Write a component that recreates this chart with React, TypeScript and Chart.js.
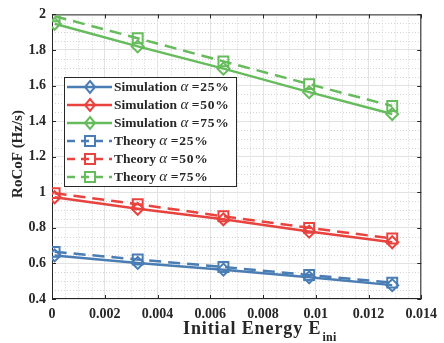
import React, { useEffect, useRef } from "react";
import { Chart, registerables } from "chart.js";
Chart.register(...registerables);

const xValues = [0.0001, 0.00325, 0.0065, 0.00975, 0.0129];
const simBlue = [0.645, 0.603, 0.565, 0.522, 0.478];
const simRed = [0.972, 0.907, 0.848, 0.779, 0.719];
const simGreen = [1.947, 1.82, 1.695, 1.563, 1.44];
const thBlue = [0.665, 0.622, 0.58, 0.535, 0.492];
const thRed = [0.995, 0.933, 0.865, 0.8, 0.74];
const thGreen = [1.99, 1.866, 1.736, 1.608, 1.485];

const xTickValues = [0, 0.002, 0.004, 0.006, 0.008, 0.01, 0.012, 0.014];
const yTickValues = [0.4, 0.6, 0.8, 1, 1.2, 1.4, 1.6, 1.8, 2];
const legendPrefixes = ["Simulation", "Simulation", "Simulation", "Theory", "Theory", "Theory"];
const legendSuffixes = ["=25%", "=50%", "=75%", "=25%", "=50%", "=75%"];

const BLUE = "#4a7db4";
const RED = "#e8433f";
const GREEN = "#66bb5c";
const FONT = '"Liberation Serif", "Times New Roman", serif';
const INK = "#262626";

const seriesValues = [simBlue, simRed, simGreen, thBlue, thRed, thGreen];
const seriesColors = [BLUE, RED, GREEN, BLUE, RED, GREEN];

const framePlugin = {
  id: "frame",
  beforeDraw(chart: any) {
    const { ctx, chartArea: a, scales } = chart;
    const x = scales.x;
    const y = scales.y;
    ctx.save();
    ctx.strokeStyle = "#d4d4d4";
    ctx.lineWidth = 1;
    ctx.setLineDash([1, 2]);
    for (let i = 1; i < 28; i++) {
      if (i % 4 === 0) continue;
      const px = Math.round(x.getPixelForValue(i * 0.0005)) + 0.5;
      ctx.beginPath();
      ctx.moveTo(px, a.top);
      ctx.lineTo(px, a.bottom);
      ctx.stroke();
    }
    for (let i = 1; i < 32; i++) {
      if (i % 4 === 0) continue;
      const py = Math.round(y.getPixelForValue(0.4 + i * 0.05)) + 0.5;
      ctx.beginPath();
      ctx.moveTo(a.left, py);
      ctx.lineTo(a.right, py);
      ctx.stroke();
    }
    ctx.restore();
  },
  beforeDatasetsDraw(chart: any) {
    const { ctx, chartArea: a, scales } = chart;
    const x = scales.x;
    const y = scales.y;
    ctx.save();
    ctx.strokeStyle = INK;
    ctx.lineWidth = 1;
    ctx.setLineDash([]);
    ctx.strokeRect(a.left + 0.5, a.top + 0.5, a.right - a.left - 1, a.bottom - a.top - 1);
    const tl = 4;
    ctx.beginPath();
    xTickValues.forEach((v) => {
      const px = Math.round(x.getPixelForValue(v)) + 0.5;
      ctx.moveTo(px, a.bottom);
      ctx.lineTo(px, a.bottom - tl);
      ctx.moveTo(px, a.top);
      ctx.lineTo(px, a.top + tl);
    });
    yTickValues.forEach((v) => {
      const py = Math.round(y.getPixelForValue(v)) + 0.5;
      ctx.moveTo(a.left, py);
      ctx.lineTo(a.left + tl, py);
      ctx.moveTo(a.right, py);
      ctx.lineTo(a.right - tl, py);
    });
    ctx.stroke();
    ctx.restore();
  },
  afterDraw(chart: any) {
    const { ctx } = chart;
    ctx.save();
    ctx.fillStyle = INK;
    ctx.font = `bold 15px ${FONT}`;
    ctx.textAlign = "center";
    ctx.textBaseline = "middle";
    ctx.save();
    ctx.translate(18, 154);
    ctx.rotate(-Math.PI / 2);
    ctx.fillText("RoCoF (Hz/s)", 0, 0);
    ctx.restore();

    ctx.textAlign = "left";
    ctx.textBaseline = "alphabetic";
    ctx.font = `bold 18px ${FONT}`;
    try { (ctx as any).letterSpacing = "0.9px"; } catch (e) {}
    ctx.fillText("Initial Energy E", 183, 334);
    const w = ctx.measureText("Initial Energy E").width;
    ctx.font = `bold 12px ${FONT}`;
    try { (ctx as any).letterSpacing = "0.3px"; } catch (e) {}
    ctx.fillText("ini", 183 + w + 1, 341);
    try { (ctx as any).letterSpacing = "0px"; } catch (e) {}

    const bx = 64, by = 77, bw = 172, bh = 109;
    ctx.fillStyle = "#ffffff";
    ctx.fillRect(bx, by, bw, bh);
    ctx.strokeStyle = INK;
    ctx.lineWidth = 1;
    ctx.strokeRect(bx + 0.5, by + 0.5, bw, bh);
    for (let i = 0; i < 6; i++) {
      const cy = 87 + i * 18;
      const col = seriesColors[i];
      const theory = i >= 3;
      ctx.strokeStyle = col;
      ctx.lineWidth = 2.5;
      ctx.setLineDash(theory ? [8, 6] : []);
      ctx.beginPath();
      ctx.moveTo(67, cy);
      ctx.lineTo(112, cy);
      ctx.stroke();
      ctx.setLineDash([]);
      ctx.lineWidth = 2;
      ctx.beginPath();
      if (theory) {
        ctx.rect(85, cy - 5, 10, 10);
      } else {
        ctx.moveTo(90, cy - 6);
        ctx.lineTo(95, cy);
        ctx.lineTo(90, cy + 6);
        ctx.lineTo(85, cy);
        ctx.closePath();
      }
      ctx.stroke();

      ctx.fillStyle = INK;
      ctx.textBaseline = "middle";
      ctx.font = `bold 13.5px ${FONT}`;
      let tx = 114;
      const pre = legendPrefixes[i] + " ";
      ctx.fillText(pre, tx, cy + 1);
      tx += ctx.measureText(pre).width;
      ctx.font = `italic 15px ${FONT}`;
      ctx.fillText("α", tx, cy);
      tx += ctx.measureText("α").width + 3.5;
      ctx.font = `bold 13.5px ${FONT}`;
      try { (ctx as any).letterSpacing = "0.8px"; } catch (e) {}
      ctx.fillText(legendSuffixes[i], tx, cy + 1);
      try { (ctx as any).letterSpacing = "0px"; } catch (e) {}
    }
    ctx.restore();
  },
};

export default function App() {
  const ref = useRef<HTMLCanvasElement>(null);
  useEffect(() => {
    if (!ref.current) return;
    const datasets = seriesValues.map((vals, i) => {
      const theory = i >= 3;
      return {
        label: legendPrefixes[i] + " α " + legendSuffixes[i],
        data: xValues.map((xv, j) => ({ x: xv, y: vals[j] })),
        borderColor: seriesColors[i],
        backgroundColor: "rgba(255,255,255,0)",
        borderWidth: 2.5,
        borderDash: theory ? [12, 7] : [],
        pointStyle: theory ? "rect" : "rectRot",
        pointRadius: theory ? 7 : 6,
        pointBorderWidth: 2,
        pointBorderColor: seriesColors[i],
        pointBackgroundColor: "rgba(255,255,255,0)",
        fill: false,
        tension: 0,
      };
    });
    const tickFont = { family: FONT, size: 14, weight: "bold" as const };
    const chart = new Chart(ref.current, {
      type: "line",
      data: { datasets },
      plugins: [framePlugin],
      options: {
        animation: false,
        responsive: false,
        maintainAspectRatio: false,
        devicePixelRatio: 1,
        layout: { padding: { top: 14, right: 16, left: 0, bottom: 0 } },
        plugins: { legend: { display: false }, tooltip: { enabled: false } },
        scales: {
          x: {
            type: "linear",
            min: 0,
            max: 0.014,
            afterFit: (s: any) => { s.height = 44; },
            afterBuildTicks: (s: any) => { s.ticks = xTickValues.map((v) => ({ value: v })); },
            ticks: {
              font: tickFont,
              color: INK,
              padding: 7,
              maxRotation: 0,
              autoSkip: false,
              callback: (v: any) => String(+Number(v).toFixed(3)),
            },
            grid: { color: "#e2e2e2", drawTicks: false, lineWidth: 1 },
            border: { display: false },
          },
          y: {
            type: "linear",
            min: 0.4,
            max: 2,
            afterFit: (s: any) => { s.width = 52; },
            afterBuildTicks: (s: any) => { s.ticks = yTickValues.map((v) => ({ value: v })); },
            ticks: {
              font: tickFont,
              color: INK,
              padding: 6,
              autoSkip: false,
              callback: (v: any) => String(+Number(v).toFixed(1)),
            },
            grid: { color: "#e2e2e2", drawTicks: false, lineWidth: 1 },
            border: { display: false },
          },
        },
      },
    });
    return () => chart.destroy();
  }, []);
  return (
    <div style={{ position: "fixed", left: 0, top: 0, width: 444, height: 343, background: "#fff" }}>
      <canvas ref={ref} width={444} height={343} style={{ width: 444, height: 343, display: "block" }} />
    </div>
  );
}
